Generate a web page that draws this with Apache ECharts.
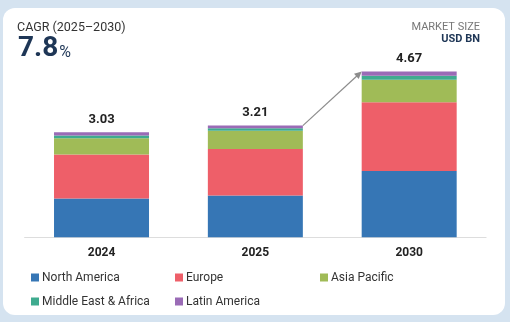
<!DOCTYPE html>
<html>
<head>
<meta charset="utf-8">
<script src="https://cdn.jsdelivr.net/npm/echarts@6/dist/echarts.min.js"></script>
<style>
  html, body { margin: 0; padding: 0; background: #d5e3f0; }
  #chart { width: 510px; height: 322px; }
</style>
</head>
<body>
<div id="chart"></div>
<script>
// Market size by region, USD BN
const years = ['2024', '2025', '2030'];
const totals = [3.03, 3.21, 4.67];
const northAmerica = [1.24, 1.32, 1.98];
const europe = [1.19, 1.26, 1.86];
const asiaPacific = [0.44, 0.49, 0.61];
const middleEastAfrica = [0.07, 0.07, 0.11];
const latinAmerica = [0.09, 0.07, 0.11];

const regionNames = ['North America', 'Europe', 'Asia Pacific', 'Middle East & Africa', 'Latin America'];
const regionValues = [northAmerica, europe, asiaPacific, middleEastAfrica, latinAmerica];
const regionColors = ['#3676b5', '#ee5f69', '#a0bb57', '#3fab8f', '#9a6bb6'];

const chart = echarts.init(document.getElementById('chart'), null, { renderer: 'canvas' });

const BAR_W = 95;

const series = regionNames.map((name, i) => {
  const s = {
    name: name,
    type: 'bar',
    stack: 'total',
    barWidth: BAR_W,
    data: regionValues[i],
    itemStyle: { color: regionColors[i] },
    emphasis: { disabled: true }
  };
  if (i === regionNames.length - 1) {
    s.label = {
      show: true,
      position: 'top',
      distance: 6,
      formatter: p => totals[p.dataIndex].toFixed(2),
      fontFamily: 'Roboto',
      fontWeight: 'bold',
      fontSize: 13,
      color: '#222'
    };
  }
  return s;
});

// legend laid out as a fixed three-column grid
const legendSlots = [[31, 271.5], [175, 271.5], [320, 271.5], [31, 295.5], [175, 295.5]];
const legends = regionNames.map((name, i) => ({
  data: [name],
  left: legendSlots[i][0],
  top: legendSlots[i][1],
  padding: 0,
  icon: 'rect',
  itemWidth: 8,
  itemHeight: 8,
  selectedMode: false,
  textStyle: { fontFamily: 'Roboto', fontSize: 12, color: '#333', padding: [0, 0, 0, -2] }
}));

const card = { type: 'rect', z: -10, shape: { x: 3, y: 8, width: 502, height: 307, r: 12 }, style: { fill: '#ffffff' } };

chart.setOption({
  animation: false,
  textStyle: { fontFamily: 'Roboto' },
  graphic: [card],
  title: [
    { text: 'CAGR (2025–2030)', left: 17, top: 21, padding: 0,
      textStyle: { fontFamily: 'Roboto', fontSize: 12.5, fontWeight: 'normal', color: '#333' } },
    { text: '{v|7.8}{p|%}', left: 18, top: 34, padding: 0,
      textStyle: { rich: {
        v: { fontFamily: 'Roboto', fontSize: 28, fontWeight: 'bold', color: '#1e3656', lineHeight: 30 },
        p: { fontFamily: 'Roboto', fontSize: 16, fontWeight: 'normal', color: '#1e3656', lineHeight: 30, padding: [8, 0, 0, 1] }
      } } },
    { text: 'MARKET SIZE', right: 30, top: 22, padding: 0,
      textStyle: { fontFamily: 'Roboto', fontSize: 11, fontWeight: 'normal', color: '#777' } },
    { text: 'USD BN', right: 30, top: 34, padding: 0,
      textStyle: { fontFamily: 'Roboto', fontSize: 11, fontWeight: 'bold', color: '#1e3656' } }
  ],
  legend: legends,
  grid: { left: 24.6, right: 23.9, top: 50.1, bottom: 84.7 },
  xAxis: {
    type: 'category',
    data: years,
    axisLine: { show: true, lineStyle: { color: '#dddddd', width: 1 } },
    axisTick: { show: false },
    axisLabel: { margin: 10, fontFamily: 'Roboto', fontWeight: 'bold', fontSize: 12, color: '#222' }
  },
  yAxis: {
    type: 'value',
    min: 0.19,
    max: 5.25,
    show: false,
    splitLine: { show: false }
  },
  series: series
});

// growth arrow from the 2025 bar's top-right corner to the 2030 bar's top-left corner
const p0 = chart.convertToPixel({ gridIndex: 0 }, [years[1], totals[1]]);
const p1 = chart.convertToPixel({ gridIndex: 0 }, [years[2], totals[2]]);
const x0 = p0[0] + BAR_W / 2, y0 = p0[1];
const x1 = p1[0] - BAR_W / 2, y1 = p1[1];
const ang = Math.atan2(y1 - y0, x1 - x0);
const head = 8, spread = 0.45;
chart.setOption({
  graphic: [
    card,
    { type: 'line', z: 10, shape: { x1: x0, y1: y0, x2: x1 - Math.cos(ang) * 4, y2: y1 - Math.sin(ang) * 4 },
      style: { stroke: '#8c8c8c', lineWidth: 1.2 } },
    { type: 'polygon', z: 10, shape: { points: [
        [x1, y1],
        [x1 - head * Math.cos(ang - spread), y1 - head * Math.sin(ang - spread)],
        [x1 - head * Math.cos(ang + spread), y1 - head * Math.sin(ang + spread)]
      ] }, style: { fill: '#8c8c8c' } }
  ]
});
</script>
</body>
</html>
